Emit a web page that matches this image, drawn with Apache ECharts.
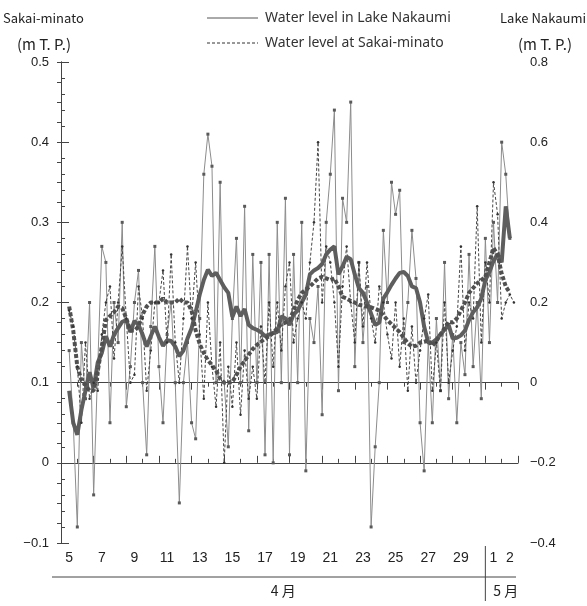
<!DOCTYPE html>
<html>
<head>
<meta charset="utf-8">
<script src="https://cdn.jsdelivr.net/npm/echarts@6/dist/echarts.min.js"></script>
<style>
  html, body { margin: 0; padding: 0; background: #fff; }
  #chart { width: 587px; height: 606px; }
</style>
</head>
<body>
<div id="chart"></div>
<script>
// time of first sample (days after Apr 5 00:00) and spacing between samples
const START = 0.5, STEP = 0.25;

// day labels, one per day Apr 5 .. May 2
const dayLabels = ['5','','7','','9','','11','','13','','15','','17','','19','','21','','23','','25','','27','','29','','1','2'];

// Lake Nakaumi, 6-hourly (right axis, m T.P.)
const nakaumiThin = [
  0.08, -0.10,
  -0.36, 0.10, -0.04, 0.20,
  -0.28, 0.04, 0.34, 0.30,
  -0.10, 0.20, 0.10, 0.40,
  -0.06, 0.04, 0.20, 0.28,
  0.00, -0.18, 0.14, 0.34,
  0.04, -0.10, 0.12, 0.20,
  0.00, -0.30, 0.00, 0.10,
  -0.10, -0.14, 0.16, 0.52,
  0.62, 0.54, 0.00, 0.50,
  0.00, -0.16, 0.16, 0.36,
  0.00, 0.44, -0.12, 0.32,
  0.00, 0.30, -0.18, 0.32,
  -0.20, 0.40, 0.00, 0.46,
  -0.18, 0.32, 0.00, 0.40,
  -0.22, 0.16, 0.10, 0.24,
  -0.08, 0.40, 0.52, 0.68,
  -0.02, 0.46, 0.40, 0.70,
  0.04, 0.30, 0.10, 0.24,
  -0.36, -0.16, 0.00, 0.38,
  0.20, 0.50, 0.42, 0.48,
  0.10, 0.20, 0.38, 0.26,
  -0.10, -0.22, 0.10, -0.10,
  0.16, -0.02, 0.30, -0.04,
  0.12, -0.10, 0.10, 0.02,
  0.32, 0.04, 0.20, -0.04,
  0.36, 0.10, 0.40, 0.20,
  0.60, 0.52, 0.36
];

// Sakai-minato, 6-hourly (left axis, m T.P.)
const sakaiThin = [
  0.19, 0.17,
  0.12, 0.05, 0.15, 0.08,
  0.10, 0.09, 0.16, 0.20,
  0.22, 0.13, 0.20, 0.27,
  0.18, 0.10, 0.11, 0.22,
  0.18, 0.09, 0.14, 0.20,
  0.20, 0.24, 0.15, 0.26,
  0.15, 0.10, 0.18, 0.27,
  0.18, 0.25, 0.16, 0.08,
  0.20, 0.12, 0.07, 0.15,
  0.00, 0.12, 0.07, 0.15,
  0.06, 0.14, 0.08, 0.12,
  0.08, 0.17, 0.10, 0.20,
  0.12, 0.20, 0.14, 0.22,
  0.25, 0.15, 0.18, 0.20,
  0.18, 0.25, 0.30, 0.40,
  0.20, 0.27, 0.25, 0.20,
  0.12, 0.22, 0.27, 0.20,
  0.15, 0.25, 0.17, 0.25,
  0.18, 0.15, 0.22, 0.20,
  0.16, 0.13, 0.20, 0.12,
  0.18, 0.09, 0.17, 0.10,
  0.14, 0.18, 0.21, 0.09,
  0.15, 0.09, 0.20, 0.10,
  0.14, 0.17, 0.27, 0.14,
  0.20, 0.18, 0.32, 0.15,
  0.25, 0.20, 0.35, 0.31,
  0.18, 0.20, 0.21, 0.20
];

// daily running means, same time steps
const nakaumiMean = [
  -0.02, -0.10,
  -0.13, -0.068, -0.02, 0.026,
  -0.014, 0.05, 0.074, 0.116,
  0.09, 0.12, 0.136, 0.152,
  0.156, 0.126, 0.154, 0.144,
  0.12, 0.09, 0.116, 0.14,
  0.114, 0.092, 0.106, 0.104,
  0.09, 0.066, 0.08, 0.11,
  0.136, 0.176, 0.22, 0.256,
  0.282, 0.266, 0.274, 0.256,
  0.238, 0.224, 0.164, 0.19,
  0.166, 0.184, 0.144, 0.136,
  0.132, 0.126, 0.116, 0.12,
  0.124, 0.126, 0.166, 0.16,
  0.144, 0.17, 0.18, 0.20,
  0.22, 0.27, 0.28, 0.286,
  0.296, 0.32, 0.332, 0.34,
  0.27, 0.29, 0.314, 0.308,
  0.27, 0.236, 0.224, 0.20,
  0.172, 0.144, 0.15, 0.21,
  0.226, 0.244, 0.26, 0.274,
  0.276, 0.266, 0.24, 0.236,
  0.20, 0.14, 0.10, 0.10,
  0.108, 0.12, 0.132, 0.144,
  0.11, 0.112, 0.118, 0.13,
  0.156, 0.176, 0.188, 0.21,
  0.256, 0.276, 0.304, 0.32,
  0.30, 0.44, 0.36
];

const sakaiMean = [
  0.195, 0.165,
  0.12, 0.103, 0.097, 0.09,
  0.09, 0.114, 0.145, 0.178,
  0.183, 0.188, 0.195, 0.193,
  0.18, 0.165, 0.165, 0.17,
  0.185, 0.195, 0.2, 0.2,
  0.2, 0.205, 0.2, 0.2,
  0.2, 0.205, 0.2, 0.2,
  0.19, 0.165, 0.148, 0.137,
  0.128, 0.122, 0.115, 0.105,
  0.1, 0.1, 0.101, 0.11,
  0.12, 0.127, 0.135, 0.142,
  0.147, 0.151, 0.155, 0.158,
  0.162, 0.168, 0.173, 0.175,
  0.178, 0.19, 0.203, 0.212,
  0.216, 0.22, 0.225, 0.23,
  0.232, 0.23, 0.228, 0.23,
  0.22, 0.207, 0.205, 0.202,
  0.2, 0.197, 0.196, 0.195,
  0.194, 0.192, 0.19, 0.184,
  0.178, 0.173, 0.168, 0.163,
  0.156, 0.149, 0.145, 0.146,
  0.15, 0.151, 0.153, 0.146,
  0.152, 0.16, 0.168, 0.176,
  0.175, 0.18, 0.19, 0.2,
  0.212, 0.218, 0.224, 0.228,
  0.232, 0.25, 0.268, 0.26,
  0.236, 0.22, 0.212
];

function pairs(arr) {
  return arr.map((v, i) => [START + i * STEP, v]);
}

function fmt(v) {
  const s = Math.abs(v) < 1e-9 ? '0' : v.toFixed(1);
  return s.replace('-', '\u2212');
}

const labelFont = '"Liberation Sans", Arial, sans-serif';
const axisColor = '#444';

var myChart = echarts.init(document.getElementById('chart'));

var tickAxis = {
  type: 'value', min: 0, max: 28, interval: 2,
  axisLine: { lineStyle: { color: axisColor } },
  axisTick: { inside: true, length: 7, lineStyle: { color: axisColor } },
  minorTick: { show: true, splitNumber: 2, length: 4, lineStyle: { color: axisColor } },
  axisLabel: { show: false },
  splitLine: { show: false }
};

var option = {
  animation: false,
  grid: { left: 61, right: 69, top: 62, bottom: 63 },
  xAxis: [
    Object.assign({}, tickAxis, { position: 'bottom' }),
    Object.assign({}, tickAxis, { position: 'top' }),
    {
      type: 'category', data: dayLabels, position: 'bottom', boundaryGap: true,
      axisLine: { show: false }, axisTick: { show: false },
      axisLabel: { interval: 0, margin: 8, fontSize: 14, color: '#222', fontFamily: labelFont }
    }
  ],
  yAxis: [
    {
      type: 'value', min: -0.1, max: 0.5, interval: 0.1, position: 'left',
      axisLine: { show: true, lineStyle: { color: axisColor } },
      axisTick: { inside: true, length: 8, lineStyle: { color: axisColor } },
      minorTick: { show: true, splitNumber: 5, length: 4, lineStyle: { color: axisColor } },
      axisLabel: { margin: 12, fontSize: 13, color: '#222', fontFamily: labelFont, formatter: fmt },
      splitLine: { show: false }
    },
    {
      type: 'value', min: -0.4, max: 0.8, interval: 0.2, position: 'right',
      axisLine: { show: true, lineStyle: { color: axisColor } },
      axisTick: { inside: true, length: 4, lineStyle: { color: axisColor } },
      minorTick: { show: true, splitNumber: 4, length: 4, lineStyle: { color: axisColor } },
      axisLabel: { margin: 12, fontSize: 13, color: '#222', fontFamily: labelFont, formatter: fmt },
      splitLine: { show: false }
    }
  ],
  series: [
    {
      name: 'Water level in Lake Nakaumi', type: 'line', xAxisIndex: 0, yAxisIndex: 1,
      data: pairs(nakaumiThin), symbol: 'rect', symbolSize: 3, showAllSymbol: true,
      itemStyle: { color: '#5a5a5a' },
      lineStyle: { color: '#8c8c8c', width: 1 }
    },
    {
      name: 'Water level at Sakai-minato', type: 'line', xAxisIndex: 0, yAxisIndex: 0,
      data: pairs(sakaiThin), symbol: 'circle', symbolSize: 2.5, showAllSymbol: true,
      itemStyle: { color: '#333' },
      lineStyle: { color: '#444', width: 1, type: [3, 2] }
    },
    {
      name: 'Nakaumi mean', type: 'line', xAxisIndex: 0, yAxisIndex: 1,
      data: pairs(nakaumiMean), symbol: 'none',
      lineStyle: { color: '#5e5e5e', width: 4 }
    },
    {
      name: 'Sakai mean', type: 'line', xAxisIndex: 0, yAxisIndex: 0,
      data: pairs(sakaiMean), symbol: 'none',
      lineStyle: { color: '#505050', width: 4, type: [4, 2] }
    }
  ]
};

myChart.setOption(option);

// month row under the axis
var sepX = myChart.convertToPixel({ xAxisIndex: 0 }, 26);
var aprX = myChart.convertToPixel({ xAxisIndex: 0 }, 13);
var mayX = myChart.convertToPixel({ xAxisIndex: 0 }, 27);
var headFont = '13px "Noto Sans CJK JP", sans-serif';
var legFont = '14px "Noto Sans", sans-serif';

myChart.setOption({
  graphic: [
    // axis titles
    { type: 'text', x: 3, y: 18, style: { text: 'Sakai-minato', font: headFont, fill: '#222', verticalAlign: 'middle' } },
    { type: 'text', x: 44, y: 44, style: { text: '(m T. P.)', font: '15px "Noto Sans CJK JP", sans-serif', fill: '#222', align: 'center', verticalAlign: 'middle' } },
    { type: 'text', x: 586, y: 18, style: { text: 'Lake Nakaumi', font: headFont, fill: '#222', align: 'right', verticalAlign: 'middle' } },
    { type: 'text', x: 545, y: 44, style: { text: '(m T. P.)', font: '15px "Noto Sans CJK JP", sans-serif', fill: '#222', align: 'center', verticalAlign: 'middle' } },
    // legend
    { type: 'line', shape: { x1: 207, y1: 18, x2: 258, y2: 18 }, style: { stroke: '#555', lineWidth: 1 } },
    { type: 'text', x: 265, y: 18, style: { text: 'Water level in Lake Nakaumi', font: legFont, fill: '#333', verticalAlign: 'middle' } },
    { type: 'line', shape: { x1: 207, y1: 43, x2: 258, y2: 43 }, style: { stroke: '#333', lineWidth: 1, lineDash: [3, 2] } },
    { type: 'text', x: 265, y: 43, style: { text: 'Water level at Sakai-minato', font: legFont, fill: '#333', verticalAlign: 'middle' } },
    // month row
    { type: 'line', shape: { x1: 52, y1: 577, x2: 516, y2: 577 }, style: { stroke: '#444', lineWidth: 1 } },
    { type: 'line', shape: { x1: sepX, y1: 546, x2: sepX, y2: 601 }, style: { stroke: '#444', lineWidth: 1 } },
    { type: 'text', x: aprX + 10, y: 591, style: { text: '4 月', font: '14px "Noto Sans CJK JP", sans-serif', fill: '#222', align: 'center', verticalAlign: 'middle' } },
    { type: 'text', x: mayX + 4, y: 591, style: { text: '5 月', font: '14px "Noto Sans CJK JP", sans-serif', fill: '#222', align: 'center', verticalAlign: 'middle' } }
  ]
});

window.addEventListener('resize', function() {
  myChart.resize();
});
</script>
</body>
</html>
